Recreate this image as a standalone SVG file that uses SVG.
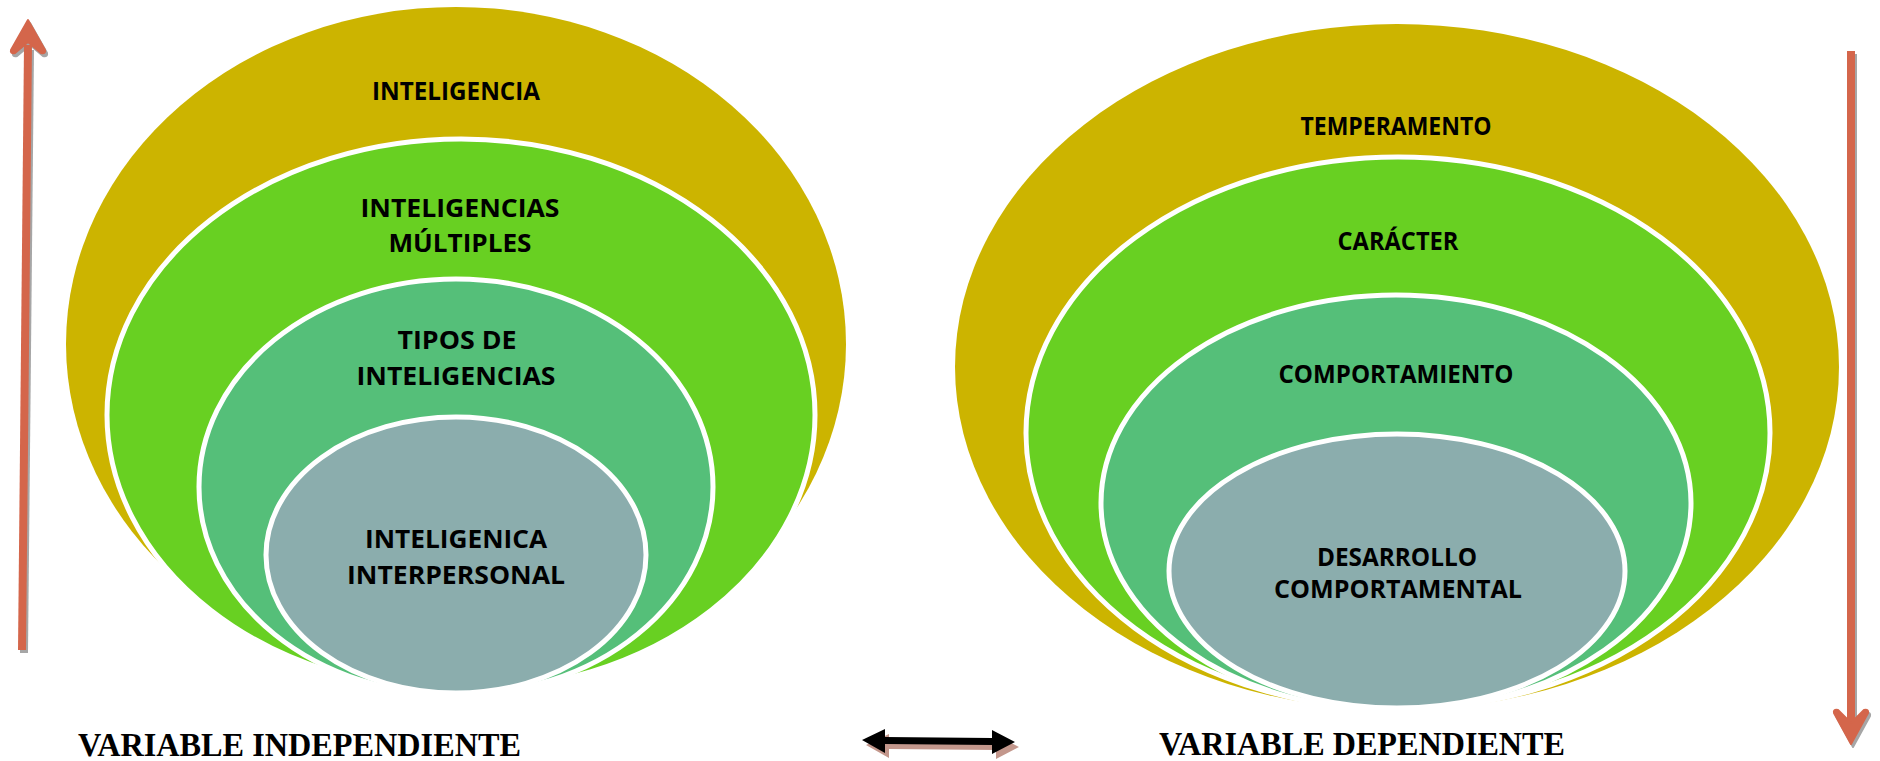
<svg xmlns="http://www.w3.org/2000/svg" width="1880" height="761" viewBox="0 0 1880 761">
<style>
.gold{fill:#CCB400;}
.green{fill:#68D022;stroke:#FFFFFF;stroke-width:5;}
.mid{fill:#55BF79;stroke:#FFFFFF;stroke-width:5;}
.gray{fill:#8BADAD;stroke:#FFFFFF;stroke-width:5;}
.lbl{font-family:"Open Sans","Noto Sans",sans-serif;font-weight:700;font-size:25px;fill:#000;text-anchor:middle;}
.var{font-family:"Liberation Serif","Times New Roman",serif;font-weight:700;font-size:33px;fill:#000;}
.shaft{stroke:#D4664B;stroke-width:8;fill:none;}
.shaftsh{stroke:#A6A6A6;stroke-width:8;fill:none;}
.head{fill:#D4664B;stroke:#D4664B;stroke-width:2;stroke-linejoin:round;}
.headsh{fill:#A6A6A6;stroke:#A6A6A6;stroke-width:2;stroke-linejoin:round;}
</style>
<rect width="1880" height="761" fill="#FFFFFF"/>
<g id="left-inteligencia">
<ellipse class="gold" cx="456" cy="344" rx="390" ry="337"/>
<text class="lbl" x="456" y="100" textLength="168" lengthAdjust="spacingAndGlyphs">INTELIGENCIA</text>
</g>
<g id="left-multiples">
<ellipse class="green" cx="461" cy="415" rx="354" ry="276"/>
<text class="lbl" x="460" y="217" textLength="199" lengthAdjust="spacingAndGlyphs">INTELIGENCIAS</text>
<text class="lbl" x="460" y="252" textLength="143" lengthAdjust="spacingAndGlyphs">MÚLTIPLES</text>
</g>
<g id="left-tipos">
<ellipse class="mid" cx="456" cy="487" rx="257" ry="208"/>
<text class="lbl" x="457" y="349" textLength="119" lengthAdjust="spacingAndGlyphs">TIPOS DE</text>
<text class="lbl" x="456" y="385" textLength="199" lengthAdjust="spacingAndGlyphs">INTELIGENCIAS</text>
</g>
<g id="left-interpersonal">
<ellipse class="gray" cx="456" cy="555" rx="190" ry="138"/>
<text class="lbl" x="456" y="548" textLength="182" lengthAdjust="spacingAndGlyphs">INTELIGENICA</text>
<text class="lbl" x="456" y="584" textLength="218" lengthAdjust="spacingAndGlyphs">INTERPERSONAL</text>
</g>
<g id="right-temperamento">
<ellipse class="gold" cx="1397" cy="367" rx="442" ry="343"/>
<text class="lbl" x="1396" y="135" textLength="191" lengthAdjust="spacingAndGlyphs">TEMPERAMENTO</text>
</g>
<g id="right-caracter">
<ellipse class="green" cx="1398" cy="433" rx="372" ry="276"/>
<text class="lbl" x="1398" y="250" textLength="121" lengthAdjust="spacingAndGlyphs">CARÁCTER</text>
</g>
<g id="right-comportamiento">
<ellipse class="mid" cx="1396" cy="503" rx="295" ry="208"/>
<text class="lbl" x="1396" y="383" textLength="235" lengthAdjust="spacingAndGlyphs">COMPORTAMIENTO</text>
</g>
<g id="right-desarrollo">
<ellipse class="gray" cx="1397" cy="571" rx="228" ry="137"/>
<text class="lbl" x="1397" y="566" textLength="160" lengthAdjust="spacingAndGlyphs">DESARROLLO</text>
<text class="lbl" x="1398" y="598" textLength="248" lengthAdjust="spacingAndGlyphs">COMPORTAMENTAL</text>
</g>
<g id="label-independiente">
<text class="var" x="78" y="756" textLength="443" lengthAdjust="spacingAndGlyphs">VARIABLE INDEPENDIENTE</text>
</g>
<g id="label-dependiente">
<text class="var" x="1159" y="755" textLength="406" lengthAdjust="spacingAndGlyphs">VARIABLE DEPENDIENTE</text>
</g>
<g id="connectors">
<line class="shaftsh" x1="24" y1="653" x2="30" y2="50"/>
<path class="headsh" d="M30,23 L47,53 Q48,57 43,56 L30,45 L17,56 Q12,57 13,53 Z"/>
<line class="shaft" x1="22" y1="650" x2="28" y2="45"/>
<path class="head" d="M28,20 L45,50 Q46,54 41,53 L28,42 L15,53 Q10,54 11,50 Z"/>
<line class="shaftsh" x1="1853" y1="54" x2="1853" y2="725"/>
<path class="headsh" d="M1853,747 L1870,716 Q1871,712 1866,713 L1853,726 L1840,713 Q1835,712 1836,716 Z"/>
<line class="shaft" x1="1851" y1="51" x2="1851" y2="725"/>
<path class="head" d="M1851,744 L1868,713 Q1869,709 1864,710 L1851,723 L1838,710 Q1833,709 1834,713 Z"/>
<path fill="#C3978C" d="M866,745 L889,734 L889,742 L996,743 L996,735 L1019,747 L996,759 L996,750 L889,749 L889,758 Z"/>
<path fill="#000000" d="M862,740 L885,729 L885,737 L992,738 L992,730 L1015,742 L992,754 L992,745 L885,744 L885,753 Z"/>
</g>
</svg>
